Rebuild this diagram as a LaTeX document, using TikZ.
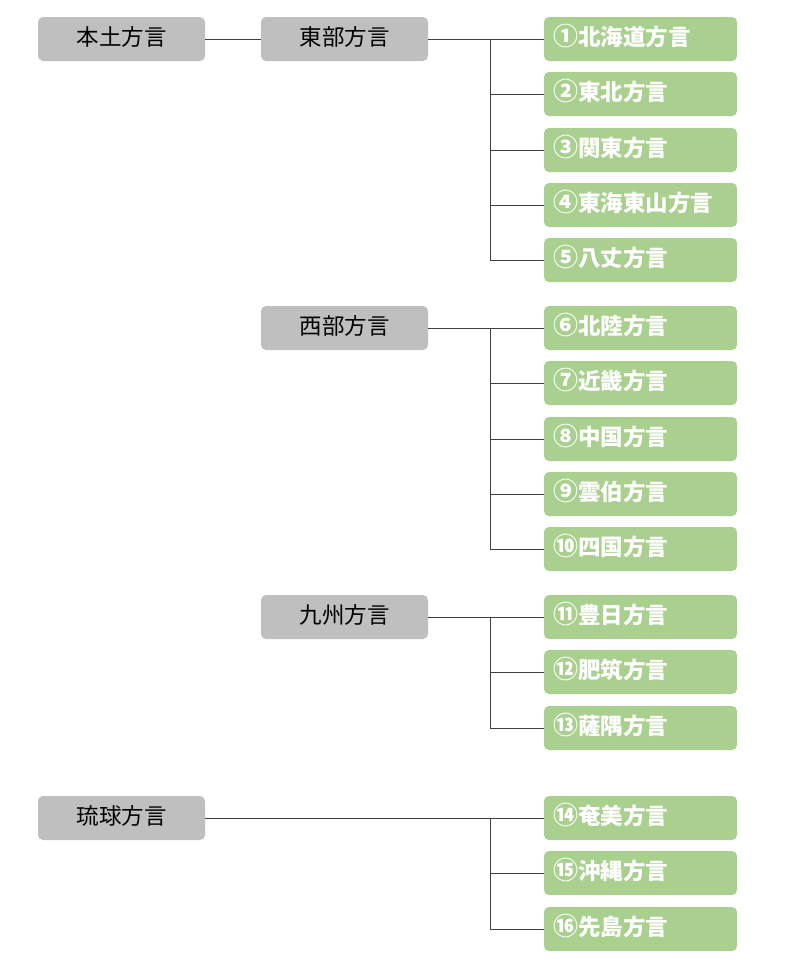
\documentclass[tikz,border=0pt]{standalone}
\usepackage{fontspec}
\setmainfont{Noto Sans CJK JP}
\definecolor{boxgray}{HTML}{BFBFBF}
\definecolor{boxgreen}{HTML}{A9D08E}
\definecolor{linegray}{HTML}{404040}
\newcommand{\circnum}[1]{{\fontsize{25}{26}\selectfont #1}}
\begin{document}
\begin{tikzpicture}[x=1pt,y=-1pt,
  graybox/.style={fill=boxgray, rounded corners=5pt, minimum width=167pt, minimum height=44pt, inner sep=0pt, text height=17pt, text depth=5pt, font=\fontsize{22.5}{26}\selectfont, text=black},
  greenbox/.style={fill=boxgreen, rounded corners=5pt, minimum width=193pt, minimum height=44pt, text width=175pt, inner xsep=9pt, inner ysep=0pt, text height=17pt, text depth=5pt, align=left, font=\fontsize{22.5}{26}\selectfont\bfseries, text=white},
  link/.style={draw=linegray, line width=1pt}]
\useasboundingbox (0,0) rectangle (786,964);
% parent boxes
\node[graybox] (hondo) at (121.5,39) {本土方言};
\node[graybox] (tobu) at (344.5,39) {東部方言};
\node[graybox] (seibu) at (344.5,328) {西部方言};
\node[graybox] (kyushu) at (344.5,617) {九州方言};
\node[graybox] (ryukyu) at (121.5,818) {琉球方言};
% leaf boxes
\node[greenbox] (g1) at (640.5,39) {\circnum{①}北海道方言};
\node[greenbox] (g2) at (640.5,94) {\circnum{②}東北方言};
\node[greenbox] (g3) at (640.5,150) {\circnum{③}関東方言};
\node[greenbox] (g4) at (640.5,205) {\circnum{④}東海東山方言};
\node[greenbox] (g5) at (640.5,260) {\circnum{⑤}八丈方言};
\node[greenbox] (g6) at (640.5,328) {\circnum{⑥}北陸方言};
\node[greenbox] (g7) at (640.5,383) {\circnum{⑦}近畿方言};
\node[greenbox] (g8) at (640.5,439) {\circnum{⑧}中国方言};
\node[greenbox] (g9) at (640.5,494) {\circnum{⑨}雲伯方言};
\node[greenbox] (g10) at (640.5,549) {\circnum{⑩}四国方言};
\node[greenbox] (g11) at (640.5,617) {\circnum{⑪}豊日方言};
\node[greenbox] (g12) at (640.5,672) {\circnum{⑫}肥筑方言};
\node[greenbox] (g13) at (640.5,728) {\circnum{⑬}薩隅方言};
\node[greenbox] (g14) at (640.5,818) {\circnum{⑭}奄美方言};
\node[greenbox] (g15) at (640.5,873) {\circnum{⑮}沖縄方言};
\node[greenbox] (g16) at (640.5,929) {\circnum{⑯}先島方言};
% junction points
\coordinate (jA) at (490,39);
\coordinate (jB) at (490,328);
\coordinate (jC) at (490,617);
\coordinate (jD) at (490,818);
% connectors
\draw[link] (hondo.east) -- (tobu.west);
\draw[link] (tobu.east) -- (g1.west);
\draw[link] (jA) |- (g2.west);
\draw[link] (jA) |- (g3.west);
\draw[link] (jA) |- (g4.west);
\draw[link] (jA) |- (g5.west);
\draw[link] (seibu.east) -- (g6.west);
\draw[link] (jB) |- (g7.west);
\draw[link] (jB) |- (g8.west);
\draw[link] (jB) |- (g9.west);
\draw[link] (jB) |- (g10.west);
\draw[link] (kyushu.east) -- (g11.west);
\draw[link] (jC) |- (g12.west);
\draw[link] (jC) |- (g13.west);
\draw[link] (ryukyu.east) -- (g14.west);
\draw[link] (jD) |- (g15.west);
\draw[link] (jD) |- (g16.west);
\end{tikzpicture}
\end{document}
